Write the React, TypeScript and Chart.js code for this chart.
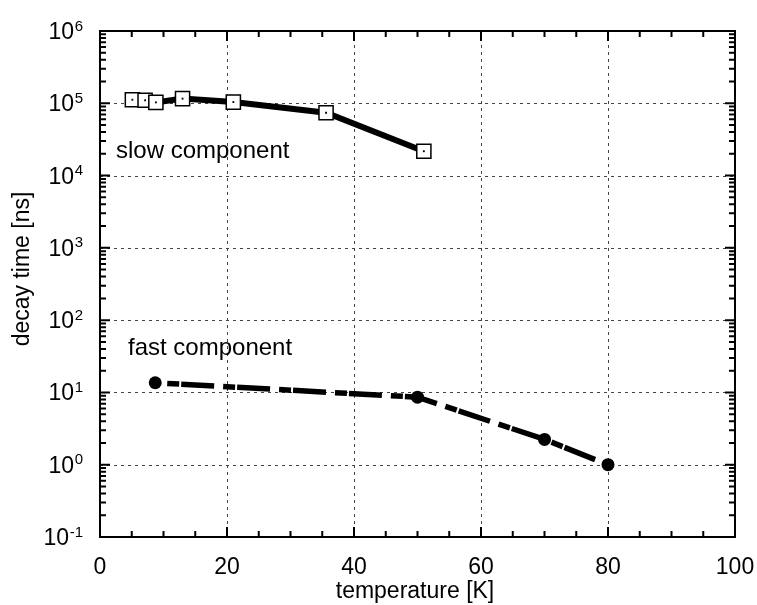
import React, { useEffect, useRef } from 'react';
import { Chart, registerables } from 'chart.js';

Chart.register(...registerables);

const slowTemps = [5.1, 7.1, 8.8, 13.0, 21.0, 35.6, 51.0];
const slowTimes = [1.12e5, 1.1e5, 1.03e5, 1.16e5, 1.04e5, 7.4e4, 2.17e4];
const fastTemps = [8.7, 50.0, 70.0, 80.0];
const fastTimes = [13.6, 8.6, 2.24, 1.0];
const xTickValues = [0, 20, 40, 60, 80, 100];
const xMinorStep = 5;
const yExponents = [-1, 0, 1, 2, 3, 4, 5, 6];
const xTitle = 'temperature [K]';
const yTitle = 'decay time [ns]';
const slowLabel = 'slow component';
const fastLabel = 'fast component';

const FONT = '"Liberation Sans", Arial, Helvetica, sans-serif';

const framePlugin = {
  id: 'gnuplotFrame',
  beforeDatasetsDraw(chart: any) {
    const { ctx, chartArea } = chart;
    const xs = chart.scales.x;
    const ys = chart.scales.y;
    const { left, right, top, bottom } = chartArea;
    ctx.save();
    // dotted grid
    ctx.strokeStyle = '#444';
    ctx.lineWidth = 1;
    ctx.setLineDash([3, 4]);
    for (const v of xTickValues) {
      const px = Math.round(xs.getPixelForValue(v)) + 0.5;
      if (px <= left + 2 || px >= right - 2) continue;
      ctx.beginPath();
      ctx.moveTo(px, top);
      ctx.lineTo(px, bottom);
      ctx.stroke();
    }
    for (const e of yExponents) {
      const py = Math.round(ys.getPixelForValue(Math.pow(10, e))) + 0.5;
      if (py <= top + 2 || py >= bottom - 2) continue;
      ctx.beginPath();
      ctx.moveTo(left, py);
      ctx.lineTo(right, py);
      ctx.stroke();
    }
    ctx.setLineDash([]);
    // ticks
    ctx.strokeStyle = '#000';
    ctx.lineWidth = 2;
    const major = 10;
    const minor = 6;
    const xmin = xTickValues[0];
    const xmax = xTickValues[xTickValues.length - 1];
    for (let v = xmin; v <= xmax + 1e-9; v += xMinorStep) {
      const isMajor = xTickValues.includes(v);
      const len = isMajor ? major : minor;
      const px = xs.getPixelForValue(v);
      ctx.beginPath();
      ctx.moveTo(px, bottom);
      ctx.lineTo(px, bottom - len);
      ctx.moveTo(px, top);
      ctx.lineTo(px, top + len);
      ctx.stroke();
    }
    for (let i = 0; i < yExponents.length; i++) {
      const e = yExponents[i];
      const base = Math.pow(10, e);
      const py = ys.getPixelForValue(base);
      ctx.beginPath();
      ctx.moveTo(left, py);
      ctx.lineTo(left + major, py);
      ctx.moveTo(right, py);
      ctx.lineTo(right - major, py);
      ctx.stroke();
      if (i < yExponents.length - 1) {
        for (let k = 2; k <= 9; k++) {
          const pm = ys.getPixelForValue(k * base);
          ctx.beginPath();
          ctx.moveTo(left, pm);
          ctx.lineTo(left + minor, pm);
          ctx.moveTo(right, pm);
          ctx.lineTo(right - minor, pm);
          ctx.stroke();
        }
      }
    }
    // frame
    ctx.lineWidth = 2;
    ctx.strokeRect(left, top, right - left, bottom - top);
    ctx.restore();
  },
  afterDraw(chart: any) {
    const { ctx, chartArea } = chart;
    const xs = chart.scales.x;
    const ys = chart.scales.y;
    ctx.save();
    ctx.fillStyle = '#000';
    const baseFont = `23px ${FONT}`;
    const expFont = `15px ${FONT}`;
    // x tick labels
    ctx.font = baseFont;
    ctx.textAlign = 'center';
    ctx.textBaseline = 'alphabetic';
    for (const v of xTickValues) {
      ctx.fillText(String(v), xs.getPixelForValue(v), chartArea.bottom + 37);
    }
    // y tick labels with superscript
    const rightEdge = chartArea.left - 17;
    for (const e of yExponents) {
      const py = ys.getPixelForValue(Math.pow(10, e));
      const es = String(e);
      ctx.font = expFont;
      ctx.textAlign = 'right';
      const ew = ctx.measureText(es).width;
      ctx.fillText(es, rightEdge, py - 0.5);
      ctx.font = baseFont;
      ctx.fillText('10', rightEdge - ew - 0.5, py + 8);
    }
    // axis titles
    ctx.font = baseFont;
    ctx.textAlign = 'center';
    ctx.fillText(xTitle, 415, 598);
    ctx.save();
    ctx.translate(29, 269);
    ctx.rotate(-Math.PI / 2);
    ctx.fillText(yTitle, 0, 0);
    ctx.restore();
    // annotations
    ctx.font = `24px ${FONT}`;
    ctx.textAlign = 'left';
    ctx.fillText(slowLabel, 116, 158);
    ctx.fillText(fastLabel, 128, 355);
    ctx.restore();
  },
};

export default function App() {
  const canvasRef = useRef<HTMLCanvasElement | null>(null);

  useEffect(() => {
    document.body.style.margin = '0';
    const canvas = canvasRef.current;
    if (!canvas) return;
    const slowPts = slowTemps.map((t, i) => ({ x: t, y: slowTimes[i] }));
    const fastPts = fastTemps.map((t, i) => ({ x: t, y: fastTimes[i] }));
    const chart = new Chart(canvas, {
      type: 'line',
      data: {
        datasets: [
          {
            label: 'slow-dots',
            data: slowPts,
            showLine: false,
            pointStyle: 'rect',
            pointRadius: 1.3,
            pointBackgroundColor: '#000',
            pointBorderWidth: 0,
            borderColor: '#000',
          },
          {
            label: slowLabel,
            data: slowPts,
            borderColor: '#000',
            borderWidth: 6,
            pointStyle: 'rect',
            pointRadius: 10,
            pointBackgroundColor: '#fff',
            pointBorderColor: '#000',
            pointBorderWidth: 1.5,
            tension: 0,
          },
          {
            label: fastLabel,
            data: fastPts,
            borderColor: '#000',
            borderWidth: 5.5,
            borderDash: [12, 2, 33, 9],
            borderDashOffset: 44,
            borderCapStyle: 'butt',
            pointStyle: 'circle',
            pointRadius: 6.5,
            pointBackgroundColor: '#000',
            pointBorderColor: '#000',
            pointBorderWidth: 0,
            tension: 0,
          },
        ],
      },
      options: {
        animation: false,
        responsive: true,
        maintainAspectRatio: false,
        layout: { padding: { left: 100, right: 22, top: 31, bottom: 68 } },
        plugins: { legend: { display: false }, tooltip: { enabled: false } },
        scales: {
          x: { type: 'linear', min: 0, max: 100, display: false },
          y: { type: 'logarithmic', min: 0.1, max: 1e6, display: false },
        },
      },
      plugins: [framePlugin],
    });
    return () => chart.destroy();
  }, []);

  return (
    <div style={{ width: 757, height: 605, position: 'relative', background: '#fff' }}>
      <canvas ref={canvasRef} />
    </div>
  );
}
